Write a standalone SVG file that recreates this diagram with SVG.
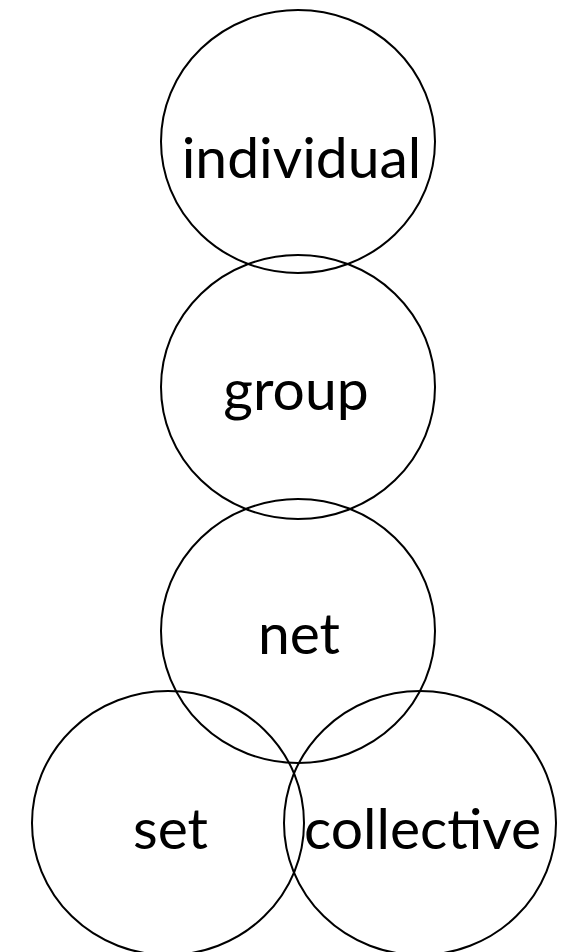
<svg xmlns="http://www.w3.org/2000/svg" width="562" height="952" viewBox="0 0 562 952">
<style>
.c{fill:none;stroke:#000;stroke-width:2}
.t{font-family:"Lato","Open Sans","Liberation Sans",sans-serif;font-size:57px;fill:#000;text-anchor:middle}
</style>
<rect width="562" height="952" fill="#fff"/>
<g id="individual"><ellipse class="c" cx="298" cy="141.5" rx="137" ry="131.5"/><text class="t" x="301.5" y="178">individual</text></g>
<g id="group"><ellipse class="c" cx="298" cy="387" rx="137" ry="132"/><text class="t" x="296" y="410">group</text></g>
<g id="net"><ellipse class="c" cx="298" cy="631" rx="137" ry="132"/><text class="t" x="299" y="654">net</text></g>
<g id="set"><ellipse class="c" cx="168" cy="823" rx="136" ry="132"/><text class="t" x="170.5" y="849">set</text></g>
<g id="collective"><ellipse class="c" cx="420" cy="823" rx="136" ry="132"/><text class="t" x="422.5" y="849">collective</text></g>
<g id="connectors"/>
</svg>
